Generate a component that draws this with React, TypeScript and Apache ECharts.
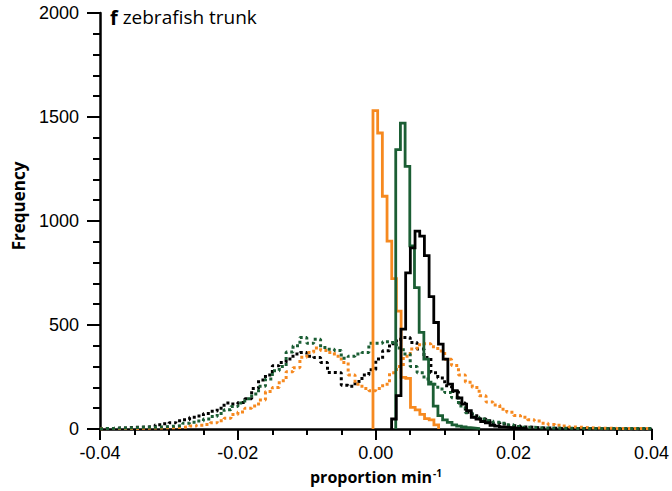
import React, { useEffect, useRef } from "react";
import * as echarts from "echarts";

// Histogram bin widths (proportion min^-1)
const SOLID_BIN = 0.00068;
const DOT_BIN = 0.001;
const DOT_START = -0.04;

// Solid histograms (narrow distributions)
const orangeSolidStart = -0.0004;
const orangeSolid = [1531, 1423, 1119, 903, 723, 567, 248, 243, 104, 92, 70, 50, 44, 20];

const greenSolidStart = 0.0029;
const greenSolid = [1343, 1471, 1263, 880, 680, 465, 336, 216, 110, 64, 44, 32, 20, 14, 10, 6, 4, 2];

const blackSolidStart = 0.0023;
const blackSolid = [48, 160, 480, 751, 871, 951, 927, 834, 636, 512, 408, 336, 216, 184, 150, 120, 88, 56, 48, 36, 30, 18, 14, 10, 8, 6, 4, 3, 2];

// Dotted histograms (broad distributions), bins from -0.04 to 0.04
const blackDotted = [
  3, 3, 5, 5, 8, 8, 10, 12, 20, 25,
  30, 40, 45, 56, 62, 75, 85, 100, 125, 120,
  128, 145, 195, 235, 260, 304, 320, 336, 360, 368,
  350, 344, 320, 272, 270, 210, 205, 228, 260, 285,
  336, 376, 410, 432, 440, 416, 385, 344, 270, 245,
  208, 180, 125, 80, 64, 48, 40, 28, 24, 16,
  14, 10, 8, 6, 5, 4, 3, 3, 2, 2,
  2, 1, 1, 1, 0, 0, 0, 0, 0, 0,
];
const greenDotted = [
  3, 3, 5, 5, 6, 8, 8, 8, 10, 12,
  14, 16, 28, 32, 38, 48, 60, 75, 92, 108,
  125, 145, 168, 205, 240, 280, 300, 370, 400, 440,
  412, 432, 392, 384, 378, 340, 350, 360, 368, 412,
  412, 420, 416, 390, 360, 300, 270, 240, 215, 192,
  175, 150, 110, 78, 58, 48, 40, 32, 28, 20,
  12, 8, 8, 6, 5, 5, 4, 4, 3, 3,
  3, 3, 2, 2, 2, 2, 2, 2, 2, 2,
];
const orangeDotted = [
  2, 2, 2, 3, 3, 3, 4, 5, 5, 6,
  6, 8, 10, 14, 18, 22, 30, 40, 52, 70,
  82, 100, 110, 140, 180, 200, 232, 275, 295, 345,
  368, 390, 378, 368, 350, 320, 260, 215, 195, 184,
  195, 215, 270, 300, 350, 385, 405, 410, 395, 375,
  335, 305, 260, 225, 200, 160, 130, 115, 95, 80,
  65, 56, 45, 38, 28, 22, 18, 14, 10, 8,
  6, 5, 4, 4, 3, 3, 2, 2, 2, 2,
];

const xTicks = [-0.04, -0.02, 0, 0.02, 0.04];
const yTicks = [0, 500, 1000, 1500, 2000];

const ORANGE = "#f6891f";
const GREEN = "#1b5e34";
const BLACK = "#000000";

function steps(start: number, width: number, counts: number[]): number[][] {
  const pts: number[][] = [[start, 0]];
  counts.forEach((c, i) => pts.push([start + i * width, c]));
  pts.push([start + counts.length * width, 0]);
  return pts;
}

export default function App() {
  const ref = useRef<HTMLDivElement>(null);
  useEffect(() => {
    if (!ref.current) return;
    const chart = echarts.init(ref.current, null, { renderer: "svg" });
    const solid = (name: string, color: string, data: number[][]) => ({
      name,
      type: "line",
      step: "end",
      data,
      symbol: "none",
      lineStyle: { color, width: 2.8, join: "miter" },
      silent: true,
    });
    const dotted = (name: string, color: string, data: number[][]) => ({
      name,
      type: "line",
      step: "end",
      data,
      symbol: "none",
      lineStyle: { color, width: 3, type: [3, 3], cap: "butt" },
      silent: true,
    });
    const labelFont = { color: "#000", fontSize: 18, fontFamily: "Liberation Sans, Arial, sans-serif" };
    chart.setOption({
      animation: false,
      grid: { left: 100, right: 20, top: 13, bottom: 62, containLabel: false },
      xAxis: {
        type: "value",
        min: xTicks[0],
        max: xTicks[xTicks.length - 1],
        interval: 0.02,
        axisLine: { show: true, onZero: false, lineStyle: { color: "#000", width: 2.5 } },
        axisTick: { show: true, length: 11, lineStyle: { color: "#000", width: 2 } },
        minorTick: { show: true, splitNumber: 4, length: 6, lineStyle: { color: "#000", width: 2 } },
        splitLine: { show: false },
        axisLabel: { ...labelFont, margin: 15, formatter: (v: number) => v.toFixed(2) },
      },
      yAxis: {
        type: "value",
        min: yTicks[0],
        max: yTicks[yTicks.length - 1],
        interval: 500,
        axisLine: { show: true, onZero: false, lineStyle: { color: "#000", width: 2.5 } },
        axisTick: { show: true, length: 13, lineStyle: { color: "#000", width: 2 } },
        minorTick: { show: true, splitNumber: 5, length: 7, lineStyle: { color: "#000", width: 2 } },
        splitLine: { show: false },
        axisLabel: { ...labelFont, margin: 21, formatter: (v: number) => String(v) },
      },
      series: [
        dotted("black broad", BLACK, steps(DOT_START, DOT_BIN, blackDotted)),
        dotted("orange broad", ORANGE, steps(DOT_START, DOT_BIN, orangeDotted)),
        dotted("green broad", GREEN, steps(DOT_START, DOT_BIN, greenDotted)),
        solid("orange narrow", ORANGE, steps(orangeSolidStart, SOLID_BIN, orangeSolid)),
        solid("green narrow", GREEN, steps(greenSolidStart, SOLID_BIN, greenSolid)),
        solid("black narrow", BLACK, steps(blackSolidStart, SOLID_BIN, blackSolid)),
      ],
      graphic: [
        {
          type: "text",
          left: 110,
          top: 7,
          style: {
            text: "{b|f} zebrafish trunk",
            font: '19px "Open Sans", sans-serif',
            fill: "#000",
            rich: {
              b: { fontWeight: "bold", fontSize: 20, fontFamily: "Open Sans", fill: "#000" },
            },
          },
        },
        {
          type: "text",
          x: 18,
          y: 206,
          rotation: Math.PI / 2,
          style: {
            text: "Frequency",
            font: 'bold 17px "Open Sans", sans-serif',
            fill: "#000",
            align: "center",
            verticalAlign: "middle",
          },
        },
        {
          type: "text",
          x: 376,
          y: 477,
          style: {
            text: "proportion min{sup|-1}",
            font: 'bold 16px "Open Sans", sans-serif',
            fill: "#000",
            align: "center",
            verticalAlign: "middle",
            rich: {
              sup: { fontSize: 10, fontWeight: "bold", fontFamily: "Open Sans", padding: [0, 0, 8, 1], fill: "#000" },
            },
          },
        },
      ],
    });
    return () => chart.dispose();
  }, []);
  return <div ref={ref} style={{ position: "absolute", left: 0, top: 0, width: 672, height: 491 }} />;
}
